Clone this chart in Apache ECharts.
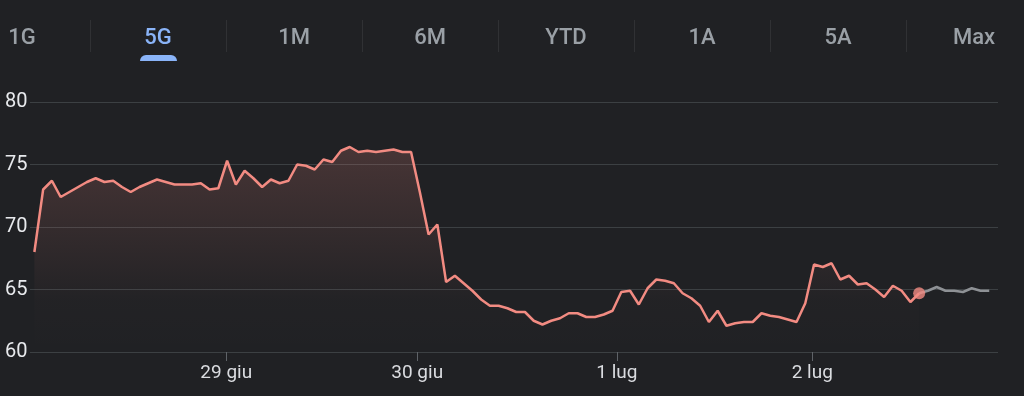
<!DOCTYPE html>
<html>
<head>
<meta charset="utf-8">
<script src="https://cdn.jsdelivr.net/npm/echarts@6/dist/echarts.min.js"></script>
<style>
  html, body { margin: 0; padding: 0; background: #202124; }
  #chart { width: 1024px; height: 396px; }
</style>
</head>
<body>
<div id="chart"></div>
<script>
// prezzi (andamento 5 giorni), un punto ogni intervallo
var prices = [
  68.0, 73.0, 73.7, 72.4, 72.8, 73.2, 73.6, 73.9, 73.6, 73.7,
  73.2, 72.8, 73.2, 73.5, 73.8, 73.6, 73.4, 73.4, 73.4, 73.5,
  73.0, 73.1, 75.3, 73.4, 74.5, 73.9, 73.2, 73.8, 73.5, 73.7,
  75.0, 74.9, 74.6, 75.4, 75.2, 76.1, 76.4, 76.0, 76.1, 76.0,
  76.1, 76.2, 76.0, 76.0, 72.8, 69.4, 70.2, 65.6, 66.1, 65.5,
  64.9, 64.2, 63.7, 63.7, 63.5, 63.2, 63.2, 62.5, 62.2, 62.5,
  62.7, 63.1, 63.1, 62.8, 62.8, 63.0, 63.3, 64.8, 64.9, 63.8,
  65.1, 65.8, 65.7, 65.5, 64.7, 64.3, 63.7, 62.4, 63.3, 62.1,
  62.3, 62.4, 62.4, 63.1, 62.9, 62.8, 62.6, 62.4, 63.9, 67.0,
  66.8, 67.1, 65.8, 66.1, 65.4, 65.5, 65.0, 64.4, 65.3, 64.9,
  64.0, 64.7
];
// after-hours (grigio)
var afterHours = [64.7, 64.9, 65.2, 64.9, 64.9, 64.8, 65.1, 64.9, 64.9];

var dayLabels = ['29 giu', '30 giu', '1 lug', '2 lug'];
var dayTicks = [21.9, 43.7, 66.5, 88.8];
var yTicks = [60, 65, 70, 75, 80];
var tabs = ['1G', '5G', '1M', '6M', 'YTD', '1A', '5A', 'Max'];
var activeTab = 1;

var mainData = prices.map(function (v, i) { return [i, v]; });
var lastIdx = prices.length - 1;
var afterData = afterHours.map(function (v, i) { return [lastIdx + i, v]; });

var FONT = 'Roboto, "Noto Sans", sans-serif';

// schede in alto
var graphics = [];
tabs.forEach(function (t, i) {
  var cx = 22 + 136 * i;
  graphics.push({
    type: 'text',
    x: cx, y: 38,
    style: {
      text: t,
      fill: i === activeTab ? '#8ab4f8' : '#9aa0a6',
      font: '500 22px ' + FONT,
      textAlign: 'center',
      textVerticalAlign: 'middle'
    }
  });
  if (i < tabs.length - 1) {
    graphics.push({
      type: 'rect',
      shape: { x: cx + 68, y: 20, width: 1, height: 32 },
      style: { fill: '#303134' }
    });
  }
});
graphics.push({
  type: 'rect',
  shape: { x: 22 + 136 * activeTab - 18, y: 55, width: 37, height: 6, r: [6, 6, 0, 0] },
  style: { fill: '#8ab4f8' }
});

var myChart = echarts.init(document.getElementById('chart'), null, { renderer: 'canvas' });
var option = {
  backgroundColor: '#202124',
  animation: false,
  graphic: graphics,
  grid: {
    left: 30,
    right: 26,
    top: 102,
    bottom: 44,
    outerBoundsMode: 'none'
  },
  xAxis: {
    type: 'value',
    min: -0.5,
    max: 110,
    axisLine: { show: false },
    splitLine: { show: false },
    axisTick: {
      show: true,
      customValues: dayTicks,
      length: 9,
      lineStyle: { color: '#5f6368', width: 1 }
    },
    axisLabel: {
      customValues: dayTicks,
      color: '#dadce0',
      fontSize: 19,
      fontFamily: FONT,
      margin: 12,
      formatter: function (v) {
        var k = dayTicks.indexOf(v);
        return k >= 0 ? dayLabels[k] : '';
      }
    }
  },
  yAxis: {
    type: 'value',
    min: 60,
    max: 80,
    interval: 5,
    axisLine: { show: false },
    axisTick: { show: false },
    axisLabel: {
      align: 'left',
      margin: 25,
      color: '#e8eaed',
      fontSize: 20,
      fontFamily: FONT,
      formatter: function (v) { return yTicks.indexOf(v) >= 0 ? String(v) : ''; }
    },
    splitLine: { lineStyle: { color: '#3c4043', width: 1 } }
  },
  series: [
    {
      name: 'prezzo',
      type: 'line',
      data: mainData,
      showSymbol: false,
      lineStyle: { color: '#f28b82', width: 2.5 },
      areaStyle: {
        origin: 'start',
        color: new echarts.graphic.LinearGradient(0, 0, 0, 1, [
          { offset: 0, color: 'rgba(242,139,130,0.27)' },
          { offset: 0.75, color: 'rgba(242,139,130,0.02)' },
          { offset: 1, color: 'rgba(242,139,130,0)' }
        ])
      },
      z: 3
    },
    {
      name: 'after-hours',
      type: 'line',
      data: afterData,
      showSymbol: false,
      lineStyle: { color: '#8e9195', width: 2.5 },
      z: 2
    },
    {
      name: 'ultimo',
      type: 'scatter',
      data: [mainData[lastIdx]],
      symbolSize: 12,
      itemStyle: { color: '#f28b82' },
      z: 4
    }
  ]
};
myChart.setOption(option);
</script>
</body>
</html>
